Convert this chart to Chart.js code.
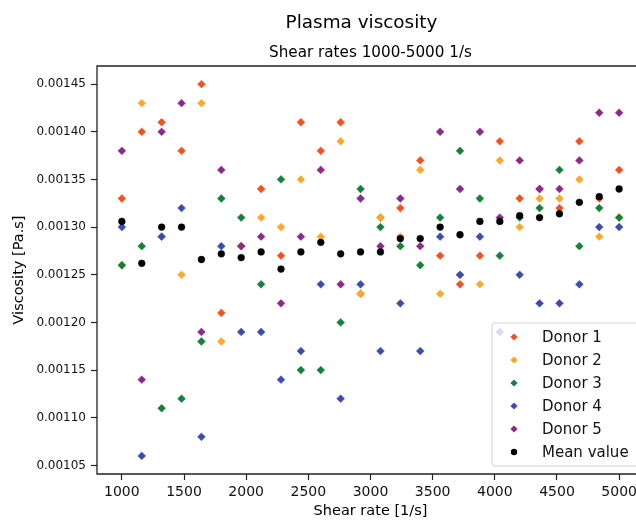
<!DOCTYPE html>
<html lang="en">
<head>
    <meta charset="UTF-8">
    <title>Plasma viscosity</title>
    <script src="https://cdn.jsdelivr.net/npm/chart.js"></script>
    <style>
        html, body { margin: 0; padding: 0; overflow: hidden; background: #fff; }
        #wrap { width: 636px; height: 523px; overflow: hidden; position: relative; }
        #viscChart { position: absolute; left: 0; top: 0; }
    </style>
</head>
<body>
<div id="wrap"><canvas id="viscChart" width="723" height="523"></canvas></div>
<script>
    // shear rates [1/s]
    const shearRates = [1000, 1160, 1320, 1480, 1640, 1800, 1960, 2120, 2280, 2440, 2600, 2760, 2920,
        3080, 3240, 3400, 3560, 3720, 3880, 4040, 4200, 4360, 4520, 4680, 4840, 5000];

    // viscosity per donor [Pa.s]
    const donor1 = [0.00133, 0.00140, 0.00141, 0.00138, 0.00145, 0.00121, 0.00128, 0.00134, 0.00127, 0.00141, 0.00138, 0.00141, 0.00123,
        0.00131, 0.00132, 0.00137, 0.00127, 0.00124, 0.00127, 0.00139, 0.00133, 0.00134, 0.00132, 0.00139, 0.00133, 0.00136];
    const donor2 = [0.00126, 0.00143, 0.00129, 0.00125, 0.00143, 0.00118, 0.00128, 0.00131, 0.00130, 0.00135, 0.00129, 0.00139, 0.00123,
        0.00131, 0.00129, 0.00136, 0.00123, 0.00125, 0.00124, 0.00137, 0.00130, 0.00133, 0.00133, 0.00135, 0.00129, 0.00131];
    const donor3 = [0.00126, 0.00128, 0.00111, 0.00112, 0.00118, 0.00133, 0.00131, 0.00124, 0.00135, 0.00115, 0.00115, 0.00120, 0.00134,
        0.00130, 0.00128, 0.00126, 0.00131, 0.00138, 0.00133, 0.00127, 0.00131, 0.00132, 0.00136, 0.00128, 0.00132, 0.00131];
    const donor4 = [0.00130, 0.00106, 0.00129, 0.00132, 0.00108, 0.00128, 0.00119, 0.00119, 0.00114, 0.00117, 0.00124, 0.00112, 0.00124,
        0.00117, 0.00122, 0.00117, 0.00129, 0.00125, 0.00129, 0.00119, 0.00125, 0.00122, 0.00122, 0.00124, 0.00130, 0.00130];
    const donor5 = [0.00138, 0.00114, 0.00140, 0.00143, 0.00119, 0.00136, 0.00128, 0.00129, 0.00122, 0.00129, 0.00136, 0.00124, 0.00133,
        0.00128, 0.00133, 0.00128, 0.00140, 0.00134, 0.00140, 0.00131, 0.00137, 0.00134, 0.00134, 0.00137, 0.00142, 0.00142];
    const meanValue = [0.001306, 0.001262, 0.00130, 0.00130, 0.001266, 0.001272, 0.001268, 0.001274, 0.001256, 0.001274, 0.001284, 0.001272, 0.001274,
        0.001274, 0.001288, 0.001288, 0.00130, 0.001292, 0.001306, 0.001306, 0.001312, 0.00131, 0.001314, 0.001326, 0.001332, 0.00134];

    const seriesNames = ['Donor 1', 'Donor 2', 'Donor 3', 'Donor 4', 'Donor 5', 'Mean value'];
    const seriesValues = [donor1, donor2, donor3, donor4, donor5, meanValue];
    const seriesColors = ['#f4511e', '#ffa726', '#13803c', '#3a4cb0', '#8b2a8b', '#000000'];
    const seriesShapes = ['rectRot', 'rectRot', 'rectRot', 'rectRot', 'rectRot', 'circle'];

    const xTicks = [1000, 1500, 2000, 2500, 3000, 3500, 4000, 4500, 5000];
    const yTicks = [0.00105, 0.00110, 0.00115, 0.00120, 0.00125, 0.00130, 0.00135, 0.00140, 0.00145];

    Chart.defaults.font.family = 'DejaVu Sans';
    Chart.defaults.color = '#111';

    const datasets = seriesNames.map((name, i) => ({
        label: name,
        data: shearRates.map((x, k) => ({x: x, y: seriesValues[i][k]})),
        backgroundColor: seriesColors[i],
        borderColor: seriesColors[i],
        borderWidth: 0.5,
        pointStyle: seriesShapes[i],
        pointRadius: seriesShapes[i] === 'circle' ? 3.4 : 3.9,
        order: seriesNames.length - i // matplotlib draws later series on top
    }));

    // spines + legend inside the axes (bottom right)
    const framePlugin = {
        id: 'frameAndLegend',
        afterDatasetsDraw(chart) {
            const ctx = chart.ctx;
            const a = chart.chartArea;
            ctx.save();
            ctx.strokeStyle = '#222';
            ctx.lineWidth = 1.3;
            ctx.beginPath();
            ctx.moveTo(a.right, a.top);
            ctx.lineTo(a.left, a.top);
            ctx.lineTo(a.left, a.bottom);
            ctx.lineTo(a.right, a.bottom);
            ctx.stroke();

            // legend box
            const right = a.right - 5, bottom = a.bottom - 8;
            const left = right - 147, top = bottom - 143;
            const r = 3;
            ctx.beginPath();
            ctx.moveTo(left + r, top);
            ctx.lineTo(right - r, top);
            ctx.arcTo(right, top, right, top + r, r);
            ctx.lineTo(right, bottom - r);
            ctx.arcTo(right, bottom, right - r, bottom, r);
            ctx.lineTo(left + r, bottom);
            ctx.arcTo(left, bottom, left, bottom - r, r);
            ctx.lineTo(left, top + r);
            ctx.arcTo(left, top, left + r, top, r);
            ctx.closePath();
            ctx.fillStyle = 'rgba(255,255,255,0.8)';
            ctx.fill();
            ctx.strokeStyle = '#d0d0d0';
            ctx.lineWidth = 1;
            ctx.stroke();

            ctx.font = '15px "DejaVu Sans"';
            ctx.textBaseline = 'middle';
            ctx.textAlign = 'left';
            seriesNames.forEach((name, i) => {
                const cy = top + 14 + i * 23;
                const cx = left + 22;
                ctx.fillStyle = seriesColors[i];
                ctx.beginPath();
                if (seriesShapes[i] === 'circle') {
                    ctx.arc(cx, cy, 3.2, 0, Math.PI * 2);
                } else {
                    ctx.moveTo(cx - 3.6, cy);
                    ctx.lineTo(cx, cy - 3.6);
                    ctx.lineTo(cx + 3.6, cy);
                    ctx.lineTo(cx, cy + 3.6);
                    ctx.closePath();
                }
                ctx.fill();
                ctx.fillStyle = '#111';
                ctx.fillText(name, left + 50, cy + 1);
            });
            ctx.restore();
        }
    };

    new Chart(document.getElementById('viscChart'), {
        type: 'scatter',
        data: {datasets: datasets},
        options: {
            responsive: false,
            animation: false,
            layout: {padding: 0},
            plugins: {
                legend: {display: false},
                tooltip: {enabled: false},
                title: {
                    display: true,
                    text: 'Plasma viscosity',
                    color: '#000',
                    font: {size: 18.4, weight: 'normal'},
                    padding: {top: 12, bottom: 0}
                },
                subtitle: {
                    display: true,
                    text: 'Shear rates 1000-5000 1/s',
                    fullSize: false,
                    color: '#000',
                    font: {size: 15.2, weight: 'normal'},
                    padding: {top: 10.1, bottom: 3.6}
                }
            },
            scales: {
                x: {
                    type: 'linear',
                    min: 800,
                    max: 5200,
                    afterFit: s => { s.height = 49; },
                    afterBuildTicks: s => { s.ticks = xTicks.map(v => ({value: v})); },
                    grid: {display: true, drawOnChartArea: false, drawTicks: true, tickLength: 6, color: '#222', tickWidth: 1.2},
                    border: {display: false},
                    ticks: {font: {size: 14}, color: '#111', padding: 4, maxRotation: 0, callback: v => String(v)},
                    title: {display: true, text: 'Shear rate [1/s]', color: '#000', font: {size: 14.5}, padding: {top: 0, bottom: 3}}
                },
                y: {
                    type: 'linear',
                    min: 0.001041,
                    max: 0.001469,
                    afterFit: s => { s.width = 97; },
                    afterBuildTicks: s => { s.ticks = yTicks.map(v => ({value: v})); },
                    grid: {display: true, drawOnChartArea: false, drawTicks: true, tickLength: 6, color: '#222', tickWidth: 1.2},
                    border: {display: false},
                    ticks: {font: {size: 12}, color: '#111', padding: 5, callback: v => v.toFixed(5)},
                    title: {display: true, text: 'Viscosity [Pa.s]', color: '#000', font: {size: 14.5}, padding: {top: 11, bottom: 0}}
                },
                // empty space right of the axes (the figure is cut off at the window edge)
                rightPad: {
                    type: 'linear',
                    position: 'right',
                    afterFit: s => { s.width = 79; },
                    grid: {display: false},
                    border: {display: false},
                    ticks: {display: false}
                }
            }
        },
        plugins: [framePlugin]
    });
</script>
</body>
</html>
